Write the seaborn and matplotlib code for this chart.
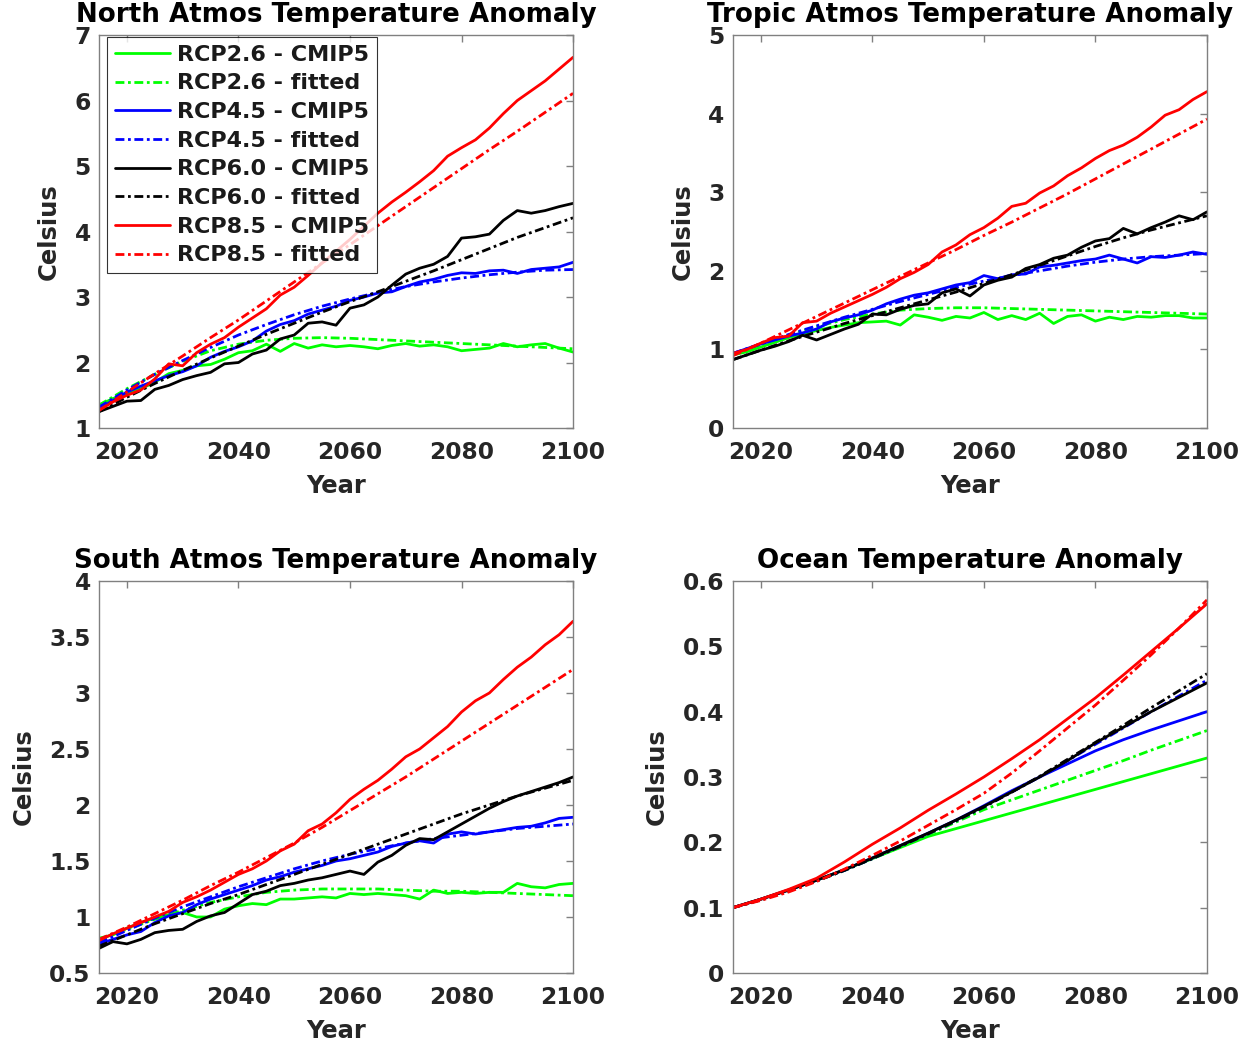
import matplotlib
matplotlib.use("Agg")
import matplotlib.pyplot as plt
from matplotlib.ticker import FuncFormatter
import numpy as np
import seaborn as sns

# x grids: CMIP5 curves read every 2.5 yr, fitted curves every 5 yr
yrs_cmip = np.arange(2015, 2100.1, 2.5)
yrs_fit = np.arange(2015, 2101, 5)

scenarios = ["RCP2.6", "RCP4.5", "RCP6.0", "RCP8.5"]
colors = ["#00ff00", "#0000ff", "#000000", "#ff0000"]

# North atmosphere
north_26 = [1.35, 1.45, 1.52, 1.60, 1.70, 1.83, 1.88, 1.95, 1.97, 2.05, 2.15, 2.18, 2.28, 2.17, 2.29, 2.22, 2.27, 2.24,
            2.26, 2.24, 2.21, 2.26, 2.29, 2.25, 2.27, 2.24, 2.18, 2.20, 2.22, 2.29, 2.24, 2.27, 2.29, 2.22, 2.16]
north_45 = [1.30, 1.42, 1.55, 1.64, 1.72, 1.80, 1.86, 1.95, 2.08, 2.17, 2.24, 2.33, 2.48, 2.58, 2.64, 2.74, 2.80, 2.86,
            2.95, 3.00, 3.06, 3.08, 3.16, 3.23, 3.27, 3.33, 3.37, 3.36, 3.40, 3.41, 3.36, 3.42, 3.44, 3.46, 3.53]
north_60 = [1.25, 1.33, 1.41, 1.42, 1.59, 1.65, 1.74, 1.80, 1.85, 1.98, 2.00, 2.13, 2.19, 2.36, 2.42, 2.60, 2.62, 2.57,
            2.83, 2.88, 3.00, 3.18, 3.35, 3.44, 3.50, 3.62, 3.90, 3.92, 3.96, 4.17, 4.32, 4.28, 4.32, 4.38, 4.43]
north_85 = [1.27, 1.40, 1.50, 1.58, 1.75, 1.98, 1.95, 2.15, 2.28, 2.38, 2.54, 2.68, 2.82, 3.03, 3.15, 3.33, 3.52, 3.70,
            3.88, 4.08, 4.28, 4.45, 4.60, 4.76, 4.93, 5.15, 5.28, 5.40, 5.58, 5.80, 6.00, 6.15, 6.30, 6.48, 6.66]
north_26_fit = [1.35, 1.60, 1.82, 2.02, 2.18, 2.28, 2.34, 2.37, 2.38, 2.37, 2.35, 2.33, 2.31, 2.29, 2.27, 2.25, 2.23, 2.21]
north_45_fit = [1.32, 1.58, 1.82, 2.03, 2.23, 2.42, 2.58, 2.73, 2.86, 2.97, 3.07, 3.16, 3.23, 3.29, 3.34, 3.38, 3.41, 3.42]
north_60_fit = [1.25, 1.47, 1.68, 1.88, 2.07, 2.25, 2.43, 2.60, 2.77, 2.93, 3.08, 3.24, 3.40, 3.57, 3.74, 3.91, 4.06, 4.21]
north_85_fit = [1.27, 1.55, 1.83, 2.10, 2.38, 2.65, 2.94, 3.23, 3.52, 3.80, 4.09, 4.38, 4.67, 4.96, 5.25, 5.53, 5.82, 6.11]

# Tropic atmosphere
trop_26 = [0.93, 0.97, 1.03, 1.09, 1.15, 1.20, 1.24, 1.28, 1.31, 1.34, 1.35, 1.36, 1.31, 1.44, 1.41, 1.37, 1.42, 1.40,
           1.47, 1.38, 1.43, 1.38, 1.46, 1.33, 1.42, 1.44, 1.36, 1.41, 1.38, 1.42, 1.41, 1.43, 1.43, 1.40, 1.40]
trop_45 = [0.95, 1.01, 1.07, 1.12, 1.17, 1.21, 1.26, 1.35, 1.40, 1.44, 1.50, 1.58, 1.64, 1.69, 1.72, 1.77, 1.82, 1.85,
           1.94, 1.90, 1.95, 1.96, 2.05, 2.07, 2.10, 2.13, 2.15, 2.20, 2.15, 2.10, 2.18, 2.17, 2.20, 2.24, 2.21]
trop_60 = [0.87, 0.93, 0.99, 1.04, 1.10, 1.18, 1.12, 1.19, 1.26, 1.32, 1.45, 1.44, 1.51, 1.56, 1.58, 1.72, 1.77, 1.68,
           1.82, 1.88, 1.92, 2.03, 2.08, 2.16, 2.20, 2.30, 2.38, 2.41, 2.54, 2.47, 2.55, 2.62, 2.70, 2.65, 2.75]
trop_85 = [0.95, 1.00, 1.08, 1.15, 1.17, 1.34, 1.36, 1.46, 1.54, 1.62, 1.70, 1.79, 1.90, 1.98, 2.08, 2.24, 2.33, 2.46,
           2.55, 2.67, 2.82, 2.86, 2.99, 3.08, 3.21, 3.31, 3.43, 3.53, 3.60, 3.70, 3.83, 3.98, 4.05, 4.18, 4.28]
trop_26_fit = [0.93, 1.06, 1.18, 1.29, 1.38, 1.45, 1.50, 1.52, 1.53, 1.53, 1.52, 1.51, 1.50, 1.49, 1.48, 1.47, 1.46, 1.45]
trop_45_fit = [0.95, 1.07, 1.19, 1.30, 1.41, 1.51, 1.61, 1.70, 1.79, 1.87, 1.94, 2.00, 2.06, 2.11, 2.15, 2.18, 2.20, 2.22]
trop_60_fit = [0.87, 0.99, 1.11, 1.22, 1.33, 1.43, 1.53, 1.63, 1.73, 1.84, 1.95, 2.07, 2.19, 2.31, 2.42, 2.52, 2.61, 2.70]
trop_85_fit = [0.92, 1.08, 1.25, 1.42, 1.59, 1.76, 1.93, 2.10, 2.27, 2.45, 2.62, 2.80, 2.98, 3.17, 3.36, 3.55, 3.74, 3.93]

# South atmosphere
south_26 = [0.81, 0.84, 0.90, 0.95, 0.99, 1.02, 1.04, 1.00, 1.00, 1.07, 1.10, 1.12, 1.11, 1.16, 1.16, 1.17, 1.18, 1.17,
            1.21, 1.20, 1.21, 1.20, 1.19, 1.16, 1.24, 1.21, 1.22, 1.21, 1.22, 1.22, 1.30, 1.27, 1.26, 1.29, 1.30]
south_45 = [0.76, 0.80, 0.84, 0.87, 0.95, 1.01, 1.04, 1.11, 1.16, 1.20, 1.24, 1.28, 1.33, 1.36, 1.40, 1.43, 1.46, 1.50,
            1.52, 1.55, 1.58, 1.63, 1.66, 1.68, 1.66, 1.74, 1.76, 1.74, 1.76, 1.78, 1.80, 1.81, 1.84, 1.88, 1.89]
south_60 = [0.72, 0.78, 0.76, 0.80, 0.86, 0.88, 0.89, 0.96, 1.01, 1.04, 1.12, 1.20, 1.23, 1.28, 1.30, 1.33, 1.35, 1.38,
            1.41, 1.38, 1.49, 1.55, 1.64, 1.70, 1.69, 1.76, 1.83, 1.90, 1.97, 2.03, 2.08, 2.12, 2.16, 2.20, 2.25]
south_85 = [0.79, 0.85, 0.90, 0.95, 1.00, 1.05, 1.13, 1.18, 1.24, 1.31, 1.38, 1.43, 1.50, 1.59, 1.65, 1.77, 1.83, 1.93,
            2.05, 2.14, 2.22, 2.32, 2.43, 2.50, 2.60, 2.70, 2.83, 2.93, 3.00, 3.12, 3.23, 3.32, 3.43, 3.52, 3.64]
south_26_fit = [0.80, 0.89, 0.98, 1.06, 1.13, 1.18, 1.22, 1.24, 1.25, 1.25, 1.25, 1.24, 1.23, 1.23, 1.22, 1.21, 1.20, 1.19]
south_45_fit = [0.77, 0.88, 0.99, 1.09, 1.18, 1.27, 1.35, 1.43, 1.50, 1.56, 1.61, 1.66, 1.70, 1.73, 1.76, 1.79, 1.81, 1.83]
south_60_fit = [0.74, 0.84, 0.94, 1.03, 1.12, 1.20, 1.29, 1.38, 1.47, 1.56, 1.65, 1.74, 1.83, 1.92, 2.00, 2.08, 2.15, 2.22]
south_85_fit = [0.80, 0.91, 1.03, 1.15, 1.28, 1.40, 1.53, 1.66, 1.80, 1.95, 2.10, 2.25, 2.41, 2.57, 2.73, 2.89, 3.05, 3.21]

# Ocean (smooth, every 5 yr)
ocean_26 = [.100, .113, .127, .142, .158, .175, .192, .209, .221, .233, .245, .257, .269, .281, .293, .305, .317, .329]
ocean_45 = [.100, .113, .127, .142, .158, .176, .195, .214, .234, .256, .279, .300, .320, .340, .357, .372, .386, .400]
ocean_60 = [.100, .113, .127, .142, .158, .176, .195, .214, .234, .255, .277, .300, .325, .352, .376, .400, .422, .444]
ocean_85 = [.100, .113, .128, .145, .170, .197, .222, .249, .274, .300, .328, .357, .389, .421, .456, .492, .528, .565]
ocean_26_fit = [.100, .112, .126, .141, .157, .175, .193, .212, .231, .250, .265, .280, .295, .310, .325, .341, .356, .371]
ocean_45_fit = [.100, .112, .126, .141, .157, .175, .194, .213, .233, .254, .277, .300, .325, .350, .375, .400, .424, .448]
ocean_60_fit = [.100, .112, .126, .141, .157, .175, .194, .213, .233, .254, .277, .301, .327, .353, .379, .406, .432, .458]
ocean_85_fit = [.100, .111, .124, .140, .159, .180, .202, .226, .250, .275, .306, .340, .375, .410, .448, .487, .528, .571]

sns.set_style("white")
plt.rcParams["font.family"] = ["DejaVu Sans"]
plt.rcParams["font.weight"] = "bold"
plt.rcParams["axes.labelweight"] = "bold"
plt.rcParams["axes.titleweight"] = "bold"

GRAY = "#808080"
DASHDOT = (0, (3.2, 1.3, 1.0, 1.3))


def panel(ax, x_cmip, cmip, fit, title, ylim, yticks):
    for name, col, c_vals, f_vals in zip(scenarios, colors, cmip, fit):
        sns.lineplot(x=x_cmip, y=c_vals, ax=ax, color=col, lw=2.0, legend=False,
                     label=name + " - CMIP5")
        sns.lineplot(x=yrs_fit, y=f_vals, ax=ax, color=col, lw=2.0, legend=False,
                     linestyle=DASHDOT, label=name + " - fitted")
    ax.set_xlim(2015, 2100)
    ax.set_ylim(*ylim)
    ax.set_xticks([2020, 2040, 2060, 2080, 2100])
    ax.set_yticks(yticks)
    ax.yaxis.set_major_formatter(FuncFormatter(lambda v, p: "%g" % v))
    ax.tick_params(direction="in", top=True, right=True, length=5, width=1,
                   color=GRAY, labelsize=16.8, labelcolor="#262626")
    ax.tick_params(axis="x", pad=9.5)
    ax.tick_params(axis="y", pad=6)
    for s in ax.spines.values():
        s.set_visible(True)
        s.set_color(GRAY)
        s.set_linewidth(1.0)
    ax.set_title(title, fontsize=18.8, pad=9.5, color="black")
    ax.set_xlabel("Year", fontsize=17.5, labelpad=7, color="#262626")
    ax.set_ylabel("Celsius", fontsize=17.5, labelpad=10, color="#262626")


fig = plt.figure(figsize=(12.6, 10.46), dpi=100)
ax1 = fig.add_axes([0.0786, 0.5908, 0.3762, 0.3757])
ax2 = fig.add_axes([0.5817, 0.5908, 0.3762, 0.3757])
ax3 = fig.add_axes([0.0786, 0.0698, 0.3762, 0.3748])
ax4 = fig.add_axes([0.5817, 0.0698, 0.3762, 0.3748])

panel(ax1, yrs_cmip, [north_26, north_45, north_60, north_85],
      [north_26_fit, north_45_fit, north_60_fit, north_85_fit],
      "North Atmos Temperature Anomaly", (1, 7), np.arange(1, 8, 1))
panel(ax2, yrs_cmip, [trop_26, trop_45, trop_60, trop_85],
      [trop_26_fit, trop_45_fit, trop_60_fit, trop_85_fit],
      "Tropic Atmos Temperature Anomaly", (0, 5), np.arange(0, 6, 1))
panel(ax3, yrs_cmip, [south_26, south_45, south_60, south_85],
      [south_26_fit, south_45_fit, south_60_fit, south_85_fit],
      "South Atmos Temperature Anomaly", (0.5, 4), np.arange(0.5, 4.01, 0.5))
panel(ax4, yrs_fit, [ocean_26, ocean_45, ocean_60, ocean_85],
      [ocean_26_fit, ocean_45_fit, ocean_60_fit, ocean_85_fit],
      "Ocean Temperature Anomaly", (0, 0.6), np.arange(0, 0.61, 0.1))

leg = ax1.legend(loc="upper left", bbox_to_anchor=(0.017, 0.995), borderaxespad=0,
                 fontsize=16, frameon=True, fancybox=False, handlelength=2.5,
                 handletextpad=0.3, labelspacing=0.39, borderpad=0.35)
leg.get_frame().set_edgecolor("black")
leg.get_frame().set_linewidth(0.8)
for t in leg.get_texts():
    t.set_color("#1a1a1a")

fig.savefig("out.png", dpi=100, facecolor="white")
